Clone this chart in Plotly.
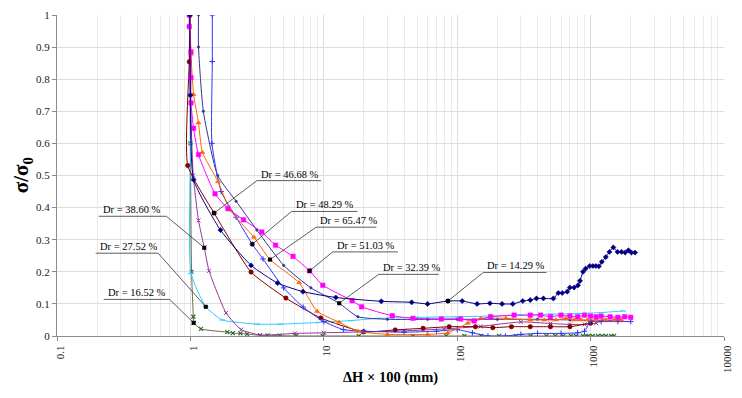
import math
import plotly.graph_objects as go

# ---------------- data ----------------
x_1429 = [0.99, 1.0, 1.056, 1.68, 2.85, 4.5, 6.98, 12.3, 27, 45.6, 60, 85.2, 109, 141, 176, 217, 261, 310, 353, 393, 443, 526, 573, 613, 668, 699, 752, 805, 833, 877, 918, 984, 1040, 1096, 1153, 1214, 1300, 1384, 1481, 1592, 1706, 1816, 1922, 2023, 2155]
y_1429 = [1.0, 0.75, 0.487, 0.33, 0.22, 0.165, 0.138, 0.12, 0.108, 0.105, 0.1, 0.109, 0.109, 0.1, 0.102, 0.1, 0.1, 0.109, 0.112, 0.117, 0.117, 0.117, 0.134, 0.134, 0.138, 0.151, 0.151, 0.158, 0.172, 0.2, 0.21, 0.218, 0.218, 0.218, 0.217, 0.231, 0.246, 0.262, 0.276, 0.262, 0.262, 0.26, 0.267, 0.26, 0.26]

x_1652 = [0.99, 1.0, 1.02, 1.052, 1.058, 1.2, 1.89, 2.08, 2.37, 2.66, 3.33, 3.78, 4.67, 6.2, 9.8, 18.3, 46.6, 82.8, 113, 151, 206, 275, 355, 467, 543, 623, 714, 778, 877, 923, 966, 1035, 1135, 1216, 1300, 1430, 1500]
y_1652 = [1.0, 0.6, 0.2, 0.06, 0.041, 0.022, 0.012, 0.009, 0.008, 0.006, 0.002, 0.002, 0.001, 0.0, 0.0, 0.0, 0.0, 0.0, 0.0, 0.0, 0.0, 0.0, 0.0, 0.0, 0.0, 0.0, 0.0, 0.0, 0.0, 0.0, 0.0, 0.0, 0.0, 0.0, 0.0, 0.0, 0.0]

x_2752 = [0.99, 1.0, 1.01, 1.305, 1.73, 3.16, 4.7, 9.0, 15.9, 25.7, 50, 100, 178, 300, 500, 800, 1200, 1750]
y_2752 = [1.0, 0.6, 0.195, 0.091, 0.05, 0.037, 0.037, 0.042, 0.048, 0.055, 0.058, 0.06, 0.062, 0.065, 0.068, 0.07, 0.073, 0.078]

x_3239 = [1.15, 1.15, 1.25, 1.6, 2.2, 3.15, 5.0, 8.0, 13.05, 18, 30, 60, 100, 200, 400, 700, 1000, 1300, 1700]
y_3239 = [1.0, 0.9, 0.7, 0.5, 0.42, 0.33, 0.22, 0.15, 0.102, 0.06, 0.052, 0.052, 0.052, 0.052, 0.052, 0.05, 0.048, 0.048, 0.048]

x_3860 = [0.99, 1.0, 1.05, 1.15, 1.27, 1.38, 1.85, 2.4, 3.33, 6.07, 10, 20, 40, 80, 150, 300, 500, 700, 900, 1100, 1250]
y_3860 = [1.0, 0.75, 0.5, 0.36, 0.275, 0.203, 0.072, 0.02, 0.003, 0.008, 0.01, 0.013, 0.016, 0.022, 0.03, 0.044, 0.039, 0.036, 0.036, 0.04, 0.05]

x_4668 = [0.99, 0.98, 0.955, 1.506, 2.85, 5.2, 9.5, 19.8, 34.3, 55.5, 87, 137, 185, 255, 353, 500, 700, 1000]
y_4668 = [1.0, 0.854, 0.531, 0.383, 0.199, 0.118, 0.056, 0.013, 0.019, 0.024, 0.029, 0.029, 0.026, 0.029, 0.029, 0.029, 0.029, 0.04]

x_4829 = [1.46, 1.46, 1.45, 1.7, 2.2, 2.91, 3.5, 5.0, 7.0, 10, 14, 20, 40, 70, 100, 130, 170, 230, 300, 400, 600, 800, 900, 1000, 1200, 1600, 2000]
y_4829 = [1.0, 0.855, 0.6, 0.45, 0.37, 0.286, 0.24, 0.15, 0.09, 0.045, 0.02, 0.015, 0.012, 0.015, 0.02, 0.01, 0.0, 0.0, 0.005, 0.008, 0.008, 0.01, 0.015, 0.045, 0.045, 0.045, 0.045]

x_5103 = [0.98, 0.98, 1.01, 1.01, 1.01, 1.056, 1.15, 1.53, 1.91, 2.5, 3.43, 4.35, 5.88, 7.82, 9.83, 16.3, 19.2, 32.6, 46.6, 76, 106, 134, 178, 267, 353, 421, 500, 600, 700, 800, 900, 1000, 1100, 1200, 1400, 1600, 1800, 2000]
y_5103 = [1.0, 0.964, 0.885, 0.805, 0.726, 0.647, 0.565, 0.443, 0.397, 0.362, 0.324, 0.283, 0.248, 0.203, 0.158, 0.11, 0.091, 0.063, 0.055, 0.053, 0.053, 0.047, 0.06, 0.065, 0.065, 0.065, 0.06, 0.065, 0.062, 0.06, 0.065, 0.062, 0.06, 0.062, 0.06, 0.058, 0.06, 0.058]

x_6547 = [0.99, 1.01, 1.056, 1.15, 1.23, 1.61, 1.98, 2.99, 3.95, 6.53, 8.9, 13, 18, 30, 60, 85, 120, 150, 232, 353, 450, 550, 650, 750, 850, 950, 1100, 1300, 1500, 1700]
y_6547 = [1.0, 0.878, 0.752, 0.664, 0.572, 0.481, 0.393, 0.308, 0.238, 0.166, 0.077, 0.043, 0.015, 0.005, 0.005, 0.01, 0.04, 0.055, 0.055, 0.05, 0.05, 0.05, 0.055, 0.05, 0.05, 0.05, 0.05, 0.05, 0.05, 0.05]

# callouts: label, tip (x, y), underline x-start, x-end, underline y, side of the leader
labels = ["Dr = 46.68 %", "Dr = 48.29 %", "Dr = 65.47 %", "Dr = 51.03 %", "Dr = 32.39 %",
          "Dr = 14.29 %", "Dr = 38.60 %", "Dr = 27.52 %", "Dr = 16.52 %"]
tip_x = [1.506, 2.91, 3.95, 7.82, 13.05, 85.2, 1.27, 1.305, 1.058]
tip_y = [0.383, 0.286, 0.238, 0.203, 0.102, 0.109, 0.275, 0.091, 0.041]
ul_x0 = [3.15, 5.73, 8.77, 11.66, 25.8, 157, 0.2057, 0.195, 0.224]
ul_x1 = [9.55, 17.86, 24.8, 35.9, 72.7, 467, 0.66, 0.573, 0.699]
ul_y = [0.484, 0.388, 0.339, 0.262, 0.192, 0.198, 0.373, 0.258, 0.114]
leader_from_left = [True, True, True, True, True, True, False, False, False]

x_ticks = [0.1, 1, 10, 100, 1000, 10000]
x_tick_text = ["0.1", "1", "10", "100", "1000", "10000"]

SERIF = "Liberation Serif, Times New Roman, serif"

fig = go.Figure()


def add(x, y, color, symbol, size, mcolor=None, width=1.0, mline=1.0):
    mc = mcolor or color
    fig.add_trace(go.Scatter(
        x=x, y=y, mode="lines+markers",
        line=dict(color=color, width=width, shape="spline", smoothing=0.5),
        marker=dict(symbol=symbol, size=size, color=mc, line=dict(width=mline, color=mc)),
        showlegend=False, hoverinfo="skip"))


add(x_1652, y_1652, "#6b6b45", "x-thin", 4, "#2f6b2f", 1.0, 1.2)
add(x_2752, y_2752, "#33ccff", "line-ew", 4, "#33ccff", 1.0, 1.2)
add(x_3860, y_3860, "#993399", "x-thin", 4, "#993399", 1.0, 1.0)
add(x_4668, y_4668, "#800000", "circle", 4.5, "#800000", 1.0, 0.5)
add(x_3239, y_3239, "#333399", "circle", 2.5, "#333399", 1.0, 0.5)
add(x_4829, y_4829, "#3333ff", "cross-thin", 4, "#3333ff", 1.0, 1.0)
add(x_6547, y_6547, "#ff6600", "triangle-up", 4.5, "#ff6600", 1.0, 0.5)
add(x_5103, y_5103, "#ff00ff", "square", 4.5, "#ff00ff", 1.0, 0.5)
add(x_1429, y_1429, "#000080", "diamond", 4, "#000080", 1.0, 0.5)

# callout leaders
for i, lab in enumerate(labels):
    if leader_from_left[i]:
        xs = [tip_x[i], ul_x0[i], ul_x1[i]]
        ys = [tip_y[i], ul_y[i], ul_y[i]]
    else:
        xs = [ul_x0[i], ul_x1[i], tip_x[i]]
        ys = [ul_y[i], ul_y[i], tip_y[i]]
    fig.add_trace(go.Scatter(x=xs, y=ys, mode="lines", line=dict(color="#333333", width=0.8),
                             showlegend=False, hoverinfo="skip"))
    fig.add_annotation(x=math.log10(ul_x0[i]), y=ul_y[i], xref="x", yref="y",
                       text=lab, showarrow=False, xanchor="left", yanchor="bottom",
                       xshift=2, yshift=-1, font=dict(family=SERIF, size=10.5, color="#000"))

fig.add_trace(go.Scatter(x=tip_x, y=tip_y, mode="markers",
                         marker=dict(symbol="square", size=4, color="#000"),
                         showlegend=False, hoverinfo="skip"))

# axis titles as annotations
fig.add_annotation(x=0.5, y=-0.13, xref="paper", yref="paper", text="<b>ΔH × 100 (mm)</b>",
                   showarrow=False, xanchor="center", yanchor="middle",
                   font=dict(family=SERIF, size=14.5, color="#000"))
fig.add_annotation(x=-0.053, y=0.5, xref="paper", yref="paper", text="<b>σ/σ<sub>0</sub></b>",
                   showarrow=False, xanchor="center", yanchor="middle", textangle=-90,
                   font=dict(family=SERIF, size=21, color="#000"))

fig.update_layout(
    width=742, height=398,
    margin=dict(l=57, r=9, t=14, b=62),
    paper_bgcolor="white", plot_bgcolor="white",
    font=dict(family=SERIF, size=11, color="#222"),
)
fig.update_xaxes(
    type="log", range=[-1, 4],
    tickvals=x_ticks, ticktext=x_tick_text, tickangle=-90, ticklabeloverflow="allow",
    ticklabelshift=3,
    showline=True, linecolor="#8c8c8c", linewidth=1,
    ticks="outside", ticklen=4, tickcolor="#8c8c8c",
    showgrid=True, gridcolor="#dedede", gridwidth=1,
    minor=dict(tickvals=[m * 10 ** e for e in range(-1, 4) for m in range(2, 10)],
               showgrid=True, gridcolor="#ebebeb", gridwidth=1, ticks=""),
    zeroline=False,
    tickfont=dict(family=SERIF, size=11, color="#222"),
)
fig.update_yaxes(
    range=[0, 1], dtick=0.1,
    showline=True, linecolor="#8c8c8c", linewidth=1,
    ticks="outside", ticklen=4, tickcolor="#8c8c8c",
    showgrid=True, gridcolor="#dedede", gridwidth=1,
    zeroline=False,
    tickfont=dict(family=SERIF, size=11, color="#222"),
)

fig.write_html("out.html", config={"displayModeBar": False},
               post_script="document.body.style.margin='0';document.body.style.padding='0';")
